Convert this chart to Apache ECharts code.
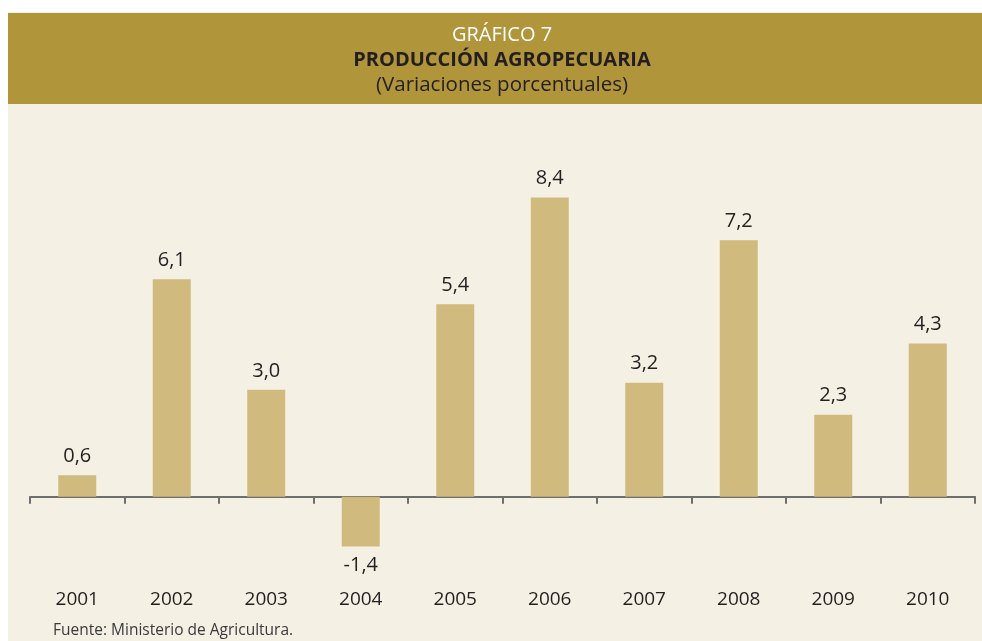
<!DOCTYPE html>
<html>
<head>
<meta charset="utf-8">
<script src="https://cdn.jsdelivr.net/npm/echarts@6/dist/echarts.min.js"></script>
<style>
  html, body { margin: 0; padding: 0; background: #fff; }
  #chart { width: 982px; height: 641px; }
</style>
</head>
<body>
<div id="chart"></div>
<script>
// datos del gráfico
const years = ['2001', '2002', '2003', '2004', '2005', '2006', '2007', '2008', '2009', '2010']
const variacion = [0.6, 6.1, 3.0, -1.4, 5.4, 8.4, 3.2, 7.2, 2.3, 4.3]

const font = '"Open Sans", sans-serif'

const chart = echarts.init(document.getElementById('chart'))

const option = {
  animation: false,
  graphic: [
    // fondo crema
    { type: 'rect', z: -10, shape: { x: 8, y: 12, width: 974, height: 629 }, style: { fill: '#f5f0e4' } },
    // banda del título
    { type: 'rect', z: -9, shape: { x: 8, y: 13, width: 974, height: 91 }, style: { fill: '#b0953a' } },
    { type: 'text', x: 502, y: 25, style: { text: 'GRÁFICO 7', fill: '#fff', font: '20px ' + font, textAlign: 'center' } },
    { type: 'text', x: 502, y: 50, style: { text: 'PRODUCCIÓN AGROPECUARIA', fill: '#231f20', font: 'bold 20px ' + font, textAlign: 'center' } },
    { type: 'text', x: 502, y: 75, style: { text: '(Variaciones porcentuales)', fill: '#231f20', font: '20.5px ' + font, textAlign: 'center' } },
    { type: 'text', x: 53, y: 623, style: { text: 'Fuente: Ministerio de Agricultura.', fill: '#3a3a3a', font: '15.5px ' + font } }
  ],
  grid: { left: 30, right: 7, top: 176, bottom: 73, outerBoundsMode: 'none', containLabel: false },
  xAxis: [
    {
      // eje en cero con marcas
      type: 'category',
      data: years,
      position: 'bottom',
      axisLine: { onZero: true, lineStyle: { color: '#6e6e6e', width: 2 } },
      axisTick: { show: true, alignWithLabel: false, length: 7, lineStyle: { color: '#6e6e6e', width: 2 } },
      axisLabel: { show: false }
    },
    {
      // etiquetas de años abajo
      type: 'category',
      data: years,
      position: 'bottom',
      axisLine: { show: false, onZero: false },
      axisTick: { show: false },
      axisLabel: { margin: 22, fontSize: 19, color: '#231f20', fontFamily: font }
    }
  ],
  yAxis: {
    type: 'value',
    min: -2,
    max: 9,
    show: false,
    splitLine: { show: false }
  },
  series: [{
    type: 'bar',
    xAxisIndex: 0,
    barWidth: 38,
    itemStyle: { color: '#d1ba7e' },
    label: {
      show: true,
      position: 'top',
      distance: 9,
      fontSize: 20,
      color: '#231f20',
      fontFamily: font,
      formatter: p => p.value.toFixed(1).replace('.', ',')
    },
    // etiquetas negativas debajo de la barra
    data: variacion.map(v => v < 0 ? { value: v, label: { position: 'bottom' } } : v)
  }]
}

chart.setOption(option)
</script>
</body>
</html>
